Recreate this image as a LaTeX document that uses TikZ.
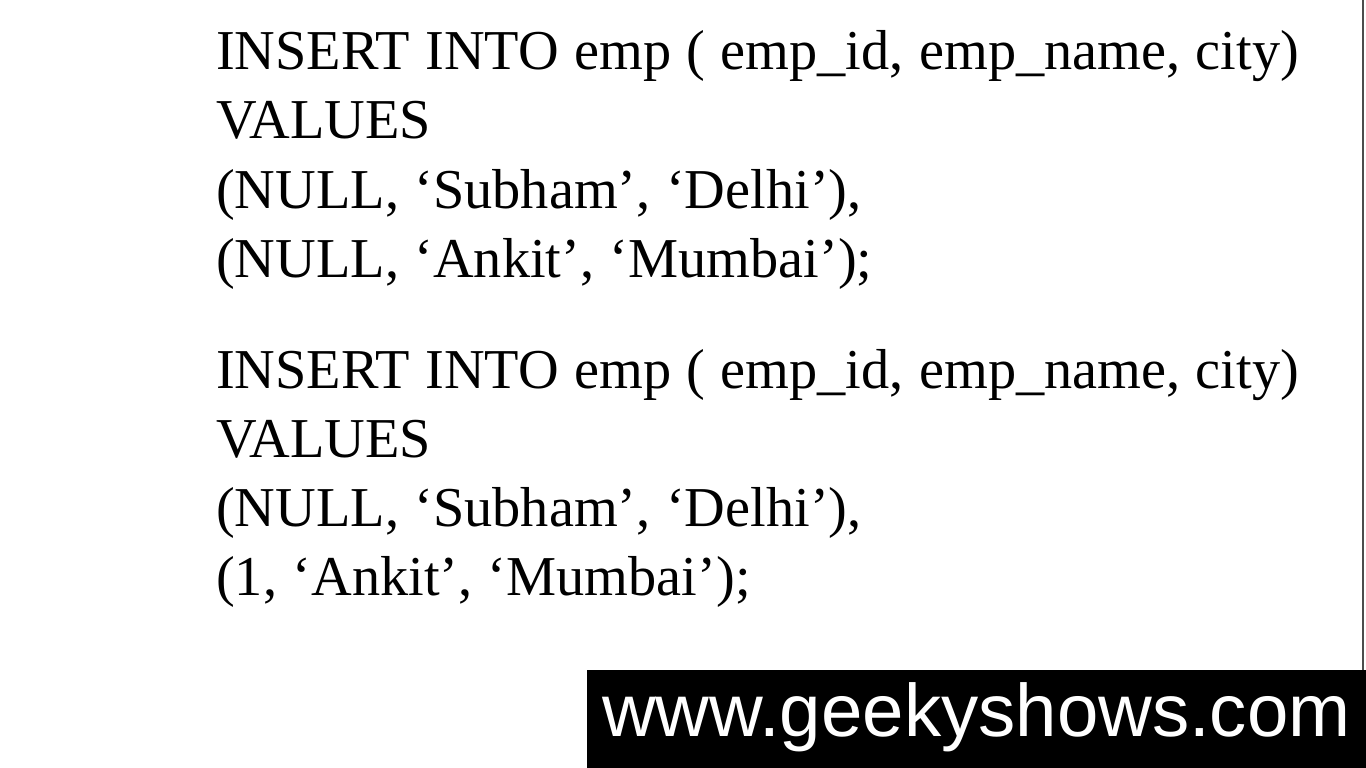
\documentclass[tikz,border=0pt]{standalone}
\usepackage{fontspec}
\setmainfont{Liberation Serif}[WordSpace=1.1]
\newfontfamily\urlfont{Liberation Sans}
\begin{document}
\begin{tikzpicture}[x=1pt,y=-1pt,
  sqlline/.style={anchor=base west,inner sep=0pt,font=\fontsize{56.3}{68}\selectfont},
  urltext/.style={anchor=base west,inner sep=0pt,text=white,font=\urlfont\fontsize{74.4}{80}\selectfont}]
\useasboundingbox (0,0) rectangle (1366,768);
\fill[white] (0,0) rectangle (1366,768);
\draw[black!70,line width=1.2pt] (1363,0) -- (1363,670);
\fill[black] (587,670) rectangle (1366,768);
\node[sqlline] (l1) at (216,70)  {INSERT INTO emp ( emp\_id, emp\_name, city)};
\node[sqlline] (l2) at (216,139) {VALUES};
\node[sqlline] (l3) at (216,208) {(NULL, ‘Subham’, ‘Delhi’),};
\node[sqlline] (l4) at (216,277) {(NULL, ‘Ankit’, ‘Mumbai’);};
\node[sqlline] (m1) at (216,388) {INSERT INTO emp ( emp\_id, emp\_name, city)};
\node[sqlline] (m2) at (216,457) {VALUES};
\node[sqlline] (m3) at (216,526) {(NULL, ‘Subham’, ‘Delhi’),};
\node[sqlline] (m4) at (216,595) {(1, ‘Ankit’, ‘Mumbai’);};
\node[urltext] (url) at (602,736) {www.geekyshows.com};
\end{tikzpicture}
\end{document}
